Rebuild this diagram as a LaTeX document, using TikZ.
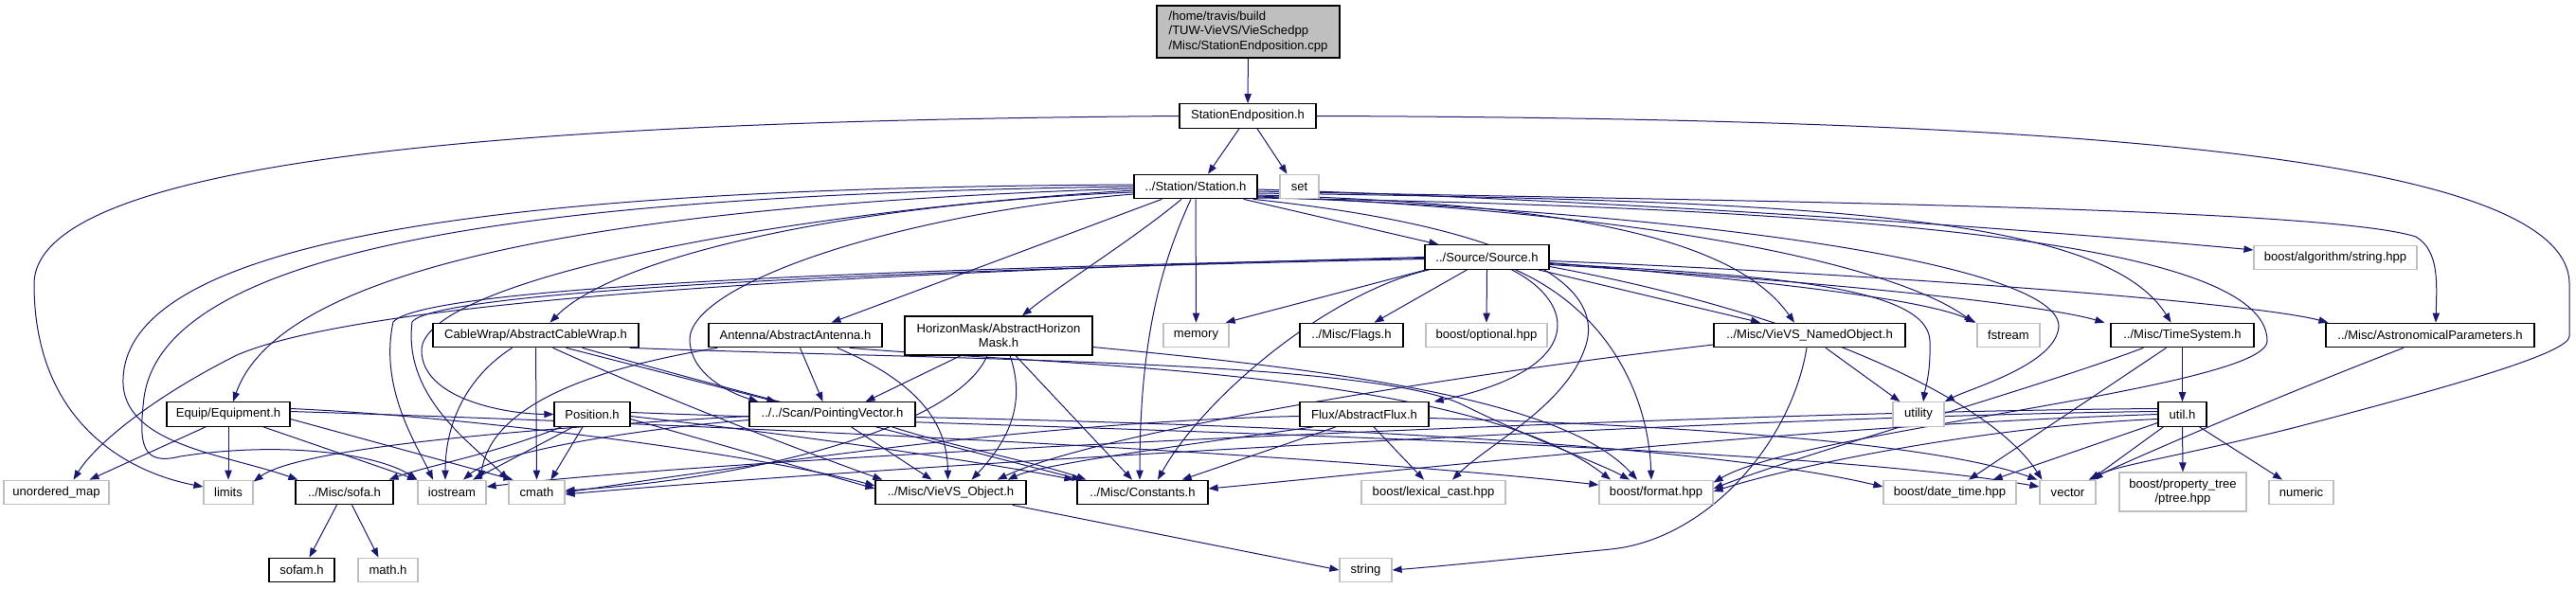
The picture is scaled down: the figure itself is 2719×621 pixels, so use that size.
\documentclass[tikz,border=0pt]{standalone}
\usepackage{fontspec}
\setmainfont{Liberation Sans}
\usetikzlibrary{arrows.meta,calc}
\definecolor{edgec}{HTML}{191970}
\definecolor{sysgray}{HTML}{BFBFBF}
\pgfdeclarelayer{bg}
\pgfsetlayers{bg,main}
\begin{document}
\begin{tikzpicture}[x=0.75pt,y=-0.75pt,
  wd/.style={minimum width=#1*0.75pt},
  ht/.style={minimum height=#1*0.75pt},
  base/.style={rectangle,inner sep=0pt,minimum height=25.5*0.75pt,font=\fontsize{9.8}{11}\selectfont,line width=0.9pt,fill=white},
  hdr/.style={base,draw=black},
  sys/.style={base,draw=sysgray},
  dep/.style={draw=edgec,line width=0.75pt,-{Triangle[length=7.5pt,width=5.5pt]}}]
\useasboundingbox (0,0) rectangle (2719,621);
% nodes
\node[base,draw=black,fill=sysgray,wd=193,ht=55,align=left,font=\fontsize{9.8}{11.5}\selectfont] (mainf) at (1317.5,33.5) {/home/travis/build\\/TUW-VieVS/VieSchedpp\\/Misc/StationEndposition.cpp};
\node[hdr,wd=144] (sep) at (1317,122.5) {StationEndposition.h};
\node[hdr,wd=130] (st) at (1262,197) {../Station/Station.h};
\node[sys,wd=41] (set) at (1371.5,197) {set};
\node[hdr,wd=131] (src) at (1569.5,271.5) {../Source/Source.h};
\node[sys,wd=172] (bstr) at (2465,272) {boost/algorithm/string.hpp};
\node[hdr,wd=217] (cw) at (565.5,354) {CableWrap/AbstractCableWrap.h};
\node[hdr,wd=183] (ant) at (839.5,354) {Antenna/AbstractAntenna.h};
\node[hdr,wd=198,ht=41,align=center] (hm) at (1054,354.5) {HorizonMask/AbstractHorizon\\Mask.h};
\node[sys,wd=69] (mem) at (1262.5,354) {memory};
\node[hdr,wd=109] (flags) at (1426.5,354) {../Misc/Flags.h};
\node[sys,wd=128] (opt) at (1569,354) {boost/optional.hpp};
\node[hdr,wd=202] (nobj) at (1910,354) {../Misc/VieVS\_NamedObject.h};
\node[sys,wd=66] (fst) at (2120,354) {fstream};
\node[hdr,wd=151] (ts) at (2303.5,354) {../Misc/TimeSystem.h};
\node[hdr,wd=220] (astro) at (2565,354) {../Misc/AstronomicalParameters.h};
\node[hdr,wd=130] (equip) at (241,437.5) {Equip/Equipment.h};
\node[hdr,wd=80] (pos) at (625,437.5) {Position.h};
\node[hdr,wd=175] (pv) at (878.5,437.5) {../../Scan/PointingVector.h};
\node[hdr,wd=136] (flux) at (1440,437.5) {Flux/AbstractFlux.h};
\node[sys,wd=54] (utility) at (2025,437.5) {utility};
\node[hdr,wd=51] (util) at (2303.5,437.5) {util.h};
\node[sys,wd=111] (umap) at (59.5,520) {unordered\_map};
\node[sys,wd=52] (limits) at (241,520) {limits};
\node[hdr,wd=103] (sofa) at (363.5,520) {../Misc/sofa.h};
\node[sys,wd=72] (ios) at (477,520) {iostream};
\node[sys,wd=59] (cmath) at (566.5,520) {cmath};
\node[hdr,wd=159] (vo) at (1003.5,520) {../Misc/VieVS\_Object.h};
\node[hdr,wd=138] (const) at (1206,520) {../Misc/Constants.h};
\node[sys,wd=152] (lex) at (1513,520) {boost/lexical\_cast.hpp};
\node[sys,wd=120] (fmt) at (1748,520) {boost/format.hpp};
\node[sys,wd=140] (dt) at (2058,520) {boost/date\_time.hpp};
\node[sys,wd=59] (vec) at (2182.5,520) {vector};
\node[sys,wd=134,ht=41,align=center] (ptree) at (2304,519.5) {boost/property\_tree\\/ptree.hpp};
\node[sys,wd=68] (num) at (2429,520) {numeric};
\node[hdr,wd=69] (sofam) at (318.5,602) {sofam.h};
\node[sys,wd=63] (mathh) at (409.5,602) {math.h};
\node[sys,wd=55] (str) at (1441.5,602) {string};
% edges
\begin{pgfonlayer}{bg}
\draw[dep] (mainf) -- (sep);
\draw[dep] ($(sep.south)+(-9,0)$) -- ($(st.north)+(13,0)$);
\draw[dep] ($(sep.south)+(10,0)$) -- ($(set.north)+(-13,0)$);
\draw[dep] (sep.west) .. controls (700,127) and (36,150) .. (36,300) .. controls (36,450) and (140,500) .. ($(limits.west)+(0,-6)$);
\draw[dep] (sep.east) .. controls (2150,125) and (2712,160) .. (2712,300) -- (2712,355) .. controls (2712,372) and (2600,405) .. (2420,452) .. controls (2300,482) and (2230,492) .. ($(vec.north east)+(-3,0)$);
% Station.h
\draw[dep] ($(st.west)+(0,-2)$) .. controls (600,198) and (135,240) .. (130,400) .. controls (127,470) and (240,480) .. ($(sofa.north west)+(3,0)$);
\draw[dep] (st.west) .. controls (620,205) and (175,250) .. (152,420) .. controls (146,470) and (150,492) .. (190,482) .. controls (300,465) and (400,480) .. (ios.north west);
\draw[dep] ($(st.west)+(0,2)$) .. controls (700,215) and (300,270) .. ($(equip.north)+(5,0)$);
\draw[dep] ($(st.west)+(0,4)$) .. controls (800,225) and (445,300) .. (445,370) .. controls (445,420) and (530,437) .. (pos.west);
\draw[dep] ($(st.west)+(0,6)$) .. controls (900,215) and (650,270) .. ($(cw.north)+(15,0)$);
\draw[dep] ($(st.west)+(0,8)$) .. controls (950,225) and (725,300) .. (728,360) .. controls (730,400) and (780,418) .. ($(pv.north west)+(10,0)$);
\draw[dep] ($(st.south west)+(30,0)$) -- ($(ant.north)+(38,0)$);
\draw[dep] ($(st.south)+(-15,0)$) .. controls (1200,250) and (1120,300) .. ($(hm.north)+(25,0)$);
\draw[dep] ($(st.south)+(-5,0)$) .. controls (1225,280) and (1203,360) .. ($(const.north)+(-3,0)$);
\draw[dep] (st.south) -- (mem.north);
\draw[dep] ($(st.south east)+(-15,0)$) -- ($(src.north west)+(15,0)$);
\draw[dep] ($(st.south east)+(-5,0)$) .. controls (1600,240) and (1700,300) .. (1672,370) .. controls (1650,430) and (1570,470) .. ($(lex.north)+(20,0)$);
\draw[dep] ($(st.east)+(0,3)$) .. controls (1700,212) and (2100,238) .. ($(bstr.west)+(0,-8)$);
\draw[dep] ($(st.east)+(0,5)$) .. controls (1800,212) and (2450,218) .. (2550,250) .. controls (2575,265) and (2572,300) .. ($(astro.north)+(6,0)$);
\draw[dep] ($(st.east)+(0,7)$) .. controls (1900,212) and (2220,225) .. ($(ts.north)+(-12,0)$);
\draw[dep] ($(st.east)+(0,9)$) .. controls (1650,215) and (1830,250) .. ($(nobj.north)+(-16,0)$);
\draw[dep] ($(st.east)+(0,10)$) .. controls (1750,225) and (2000,280) .. ($(fst.north west)+(-3,0)$);
\draw[dep] ($(st.east)+(0,11)$) .. controls (1800,225) and (2175,280) .. (2173,345) .. controls (2170,385) and (2080,410) .. (utility.north east);
\draw[dep] ($(st.east)+(0,12)$) .. controls (2000,220) and (2393,260) .. (2393,360) .. controls (2393,410) and (1900,455) .. ($(fmt.north east)+(0,3)$);
% Source.h
\draw[dep] (src.west) .. controls (1000,285) and (400,310) .. (250,375) .. controls (160,420) and (100,470) .. ($(umap.north)+(18,0)$);
\draw[dep] ($(src.west)+(0,1)$) .. controls (1000,283) and (450,300) .. (415,340) .. controls (400,410) and (440,470) .. ($(ios.north)+(-20,0)$);
\draw[dep] ($(src.west)+(0,2)$) .. controls (1000,284) and (460,305) .. (435,340) .. controls (425,420) and (500,470) .. (cmath.north west);
\draw[dep] ($(src.south west)+(2,0)$) -- ($(mem.north east)+(-4,0)$);
\draw[dep] ($(src.south)+(-21,0)$) -- ($(flags.north)+(24,0)$);
\draw[dep] (src.south) -- (opt.north);
\draw[dep] ($(src.south)+(26,0)$) .. controls (1665,320) and (1675,390) .. ($(flux.north east)+(5,0)$);
\draw[dep] ($(src.south)+(30,0)$) .. controls (1700,330) and (1740,420) .. ($(fmt.north)+(-5,0)$);
\draw[dep] ($(src.south east)+(-12,0)$) -- ($(nobj.north)+(-52,0)$);
\draw[dep] ($(src.east)+(0,6)$) .. controls (1850,295) and (2030,315) .. ($(fst.north west)+(-1,0)$);
\draw[dep] ($(src.east)+(0,7)$) .. controls (1850,290) and (2035,300) .. (2037,360) .. controls (2038,395) and (2032,410) .. ($(utility.north)+(5,0)$);
\draw[dep] ($(src.east)+(0,8)$) .. controls (1900,295) and (2150,320) .. ($(ts.north west)+(-6,0)$);
\draw[dep] ($(src.east)+(0,4)$) .. controls (2000,290) and (2380,320) .. ($(astro.north west)+(3,0)$);
\draw[dep] ($(src.south west)+(5,0)$) .. controls (1400,310) and (1270,420) .. ($(const.north)+(16,0)$);
\draw[dep] ($(src.east)+(0,10)$) .. controls (1900,330) and (2100,420) .. ($(vec.north west)+(3,0)$);
% CableWrap
\draw[dep] ($(cw.south)+(-25,0)$) .. controls (490,400) and (470,450) .. ($(ios.north)+(-7,0)$);
\draw[dep] (cw.south) -- (cmath.north);
\draw[dep] ($(cw.south)+(18,0)$) .. controls (700,420) and (830,470) .. ($(vo.north west)+(8,0)$);
\draw[dep] ($(cw.south)+(32,0)$) -- ($(pv.north west)+(29,0)$);
\draw[dep] ($(cw.south east)+(-60,0)$) .. controls (800,420) and (1000,470) .. ($(const.north west)+(5,0)$);
\draw[dep] ($(cw.south east)+(-10,0)$) .. controls (1000,380) and (1450,380) .. (1545,428) .. controls (1620,465) and (1690,490) .. ($(fmt.north)+(-28,0)$);
% Antenna
\draw[dep] ($(ant.south west)+(10,0)$) .. controls (650,385) and (520,420) .. ($(ios.north)+(30,0)$);
\draw[dep] ($(ant.south)+(5,0)$) -- ($(pv.north)+(-10,0)$);
\draw[dep] ($(ant.south east)+(-48,0)$) .. controls (960,400) and (1000,440) .. ($(vo.north)+(-3,0)$);
\draw[dep] ($(ant.south east)+(-35,0)$) .. controls (1100,385) and (1550,390) .. ($(fmt.north)+(-48,0)$);
% HorizonMask
\draw[dep] ($(hm.south)+(-40,0)$) -- ($(pv.north east)+(-53,0)$);
\draw[dep] ($(hm.south)+(-12,0)$) .. controls (1010,450) and (800,505) .. ($(cmath.east)+(0,-2)$);
\draw[dep] ($(hm.south)+(12,0)$) .. controls (1085,430) and (1060,470) .. ($(vo.north)+(22,0)$);
\draw[dep] ($(hm.south)+(18,0)$) -- ($(const.north)+(-11,0)$);
\draw[dep] ($(hm.east)+(0,12)$) .. controls (1400,390) and (1650,420) .. ($(fmt.north)+(-20,0)$);
% Equipment
\draw[dep] ($(equip.south)+(-24,0)$) -- ($(umap.north)+(35,0)$);
\draw[dep] (equip.south) -- (limits.north);
\draw[dep] ($(equip.south)+(37,0)$) -- ($(ios.north)+(-37,0)$);
\draw[dep] ($(equip.east)+(0,5)$) -- ($(cmath.north)+(-25,0)$);
\draw[dep] ($(equip.east)+(0,-6)$) .. controls (500,440) and (800,480) .. ($(vo.west)+(0,-7)$);
\draw[dep] ($(equip.east)+(0,-3)$) .. controls (800,450) and (1400,480) .. ($(fmt.west)+(0,-8)$);
% Position
\draw[dep] ($(pos.south)+(-20,0)$) -- ($(ios.north)+(22,0)$);
\draw[dep] ($(pos.south)+(-10,0)$) -- ($(cmath.north)+(15,0)$);
\draw[dep] ($(pos.south west)+(8,0)$) .. controls (520,480) and (450,492) .. ($(sofa.north east)+(-5,0)$);
\draw[dep] ($(pos.east)+(0,5)$) -- ($(vo.west)+(0,-4)$);
\draw[dep] ($(pos.east)+(0,2)$) .. controls (850,460) and (1050,490) .. ($(const.north west)+(-3,0)$);
\draw[dep] ($(pos.east)+(0,-2)$) .. controls (1200,455) and (1900,470) .. ($(vec.west)+(0,-6)$);
% PointingVector
\draw[dep] ($(pv.west)+(0,2)$) .. controls (600,450) and (320,470) .. ($(limits.north east)+(0,2)$);
\draw[dep] ($(pv.west)+(0,6)$) .. controls (650,455) and (520,480) .. ($(ios.north)+(12,0)$);
\draw[dep] ($(pv.south)+(20,0)$) -- ($(vo.north)+(-20,0)$);
\draw[dep] ($(pv.south east)+(-25,0)$) .. controls (1000,470) and (1100,490) .. ($(const.north west)+(10,0)$);
\draw[dep] ($(pv.east)+(0,3)$) .. controls (1400,450) and (1800,470) .. ($(dt.west)+(0,-6)$);
% Flux
\draw[dep] ($(flux.south west)+(15,0)$) .. controls (1250,470) and (1100,490) .. ($(vo.north east)+(-20,0)$);
\draw[dep] ($(flux.south)+(-30,0)$) -- ($(const.north east)+(-28,0)$);
\draw[dep] ($(flux.south)+(10,0)$) -- ($(lex.north)+(-10,0)$);
\draw[dep] ($(flux.west)+(0,2)$) .. controls (1100,445) and (800,490) .. (cmath.east);
\draw[dep] ($(flux.east)+(0,4)$) .. controls (1800,450) and (2050,470) .. ($(vec.north west)+(-2,0)$);
% NamedObject
\draw[dep] ($(nobj.west)+(0,10)$) .. controls (1500,400) and (1150,460) .. ($(vo.north east)+(-31,0)$);
\draw[dep] ($(nobj.south)+(-3,0)$) .. controls (1890,470) and (1800,570) .. (1700,580) .. controls (1580,592) and (1520,598) .. (str.east);
\draw[dep] ($(nobj.south)+(17,0)$) -- ($(utility.north west)+(8,0)$);
% VieVS_Object
\draw[dep] ($(vo.south east)+(-15,0)$) -- (str.west);
% sofa
\draw[dep] ($(sofa.south)+(-8,0)$) -- ($(sofam.north)+(8,0)$);
\draw[dep] ($(sofa.south)+(8,0)$) -- ($(mathh.north)+(-10,0)$);
% TimeSystem
\draw[dep] (ts.south) -- (util.north);
\draw[dep] ($(ts.south west)+(35,0)$) .. controls (2150,410) and (1900,480) .. ($(fmt.east)+(0,-4)$);
\draw[dep] ($(ts.south)+(-17,0)$) -- ($(dt.north)+(20,0)$);
% util
\draw[dep] (util.south) -- (ptree.north);
\draw[dep] ($(util.south east)+(-8,0)$) -- ($(num.north)+(-20,0)$);
\draw[dep] ($(util.south west)+(6,0)$) -- ($(vec.north east)+(-6,0)$);
\draw[dep] ($(util.west)+(0,9)$) -- ($(dt.north east)+(-25,0)$);
\draw[dep] ($(util.west)+(0,5)$) .. controls (2100,450) and (1900,490) .. ($(fmt.east)+(0,-1)$);
\draw[dep] (util.west) .. controls (1900,450) and (1500,495) .. ($(const.east)+(0,-4)$);
\draw[dep] ($(util.west)+(0,-3)$) .. controls (1800,440) and (900,495) .. ($(cmath.east)+(0,2)$);
\draw[dep] ($(util.west)+(0,-6)$) .. controls (1800,435) and (800,480) .. ($(ios.east)+(0,-6)$);
% AstronomicalParameters
\draw[dep] ($(astro.south)+(-28,0)$) .. controls (2400,420) and (2250,485) .. ($(vec.north east)+(-8,0)$);
\end{pgfonlayer}
\end{tikzpicture}
\end{document}
